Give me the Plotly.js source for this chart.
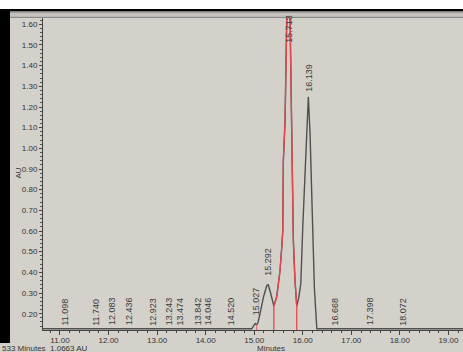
<!DOCTYPE html>
<html>
<head>
<meta charset="utf-8">
<script src="https://cdn.plot.ly/plotly-3.0.1.min.js"></script>
<style>
  html, body { margin: 0; padding: 0; background: #ffffff; overflow: hidden; }
  #chart { width: 463px; height: 352px; }
</style>
</head>
<body>
<div id="chart"></div>
<script>
// ---- data ----
const timeMin = [10.65, 14.95, 14.99, 15.02, 15.05, 15.08, 15.12, 15.19, 15.26, 15.29, 15.33, 15.39, 15.405,
                 15.464, 15.532, 15.567, 15.588, 15.60, 15.635, 15.67, 15.70, 15.738, 15.773, 15.79, 15.806, 15.84, 15.876,
                 15.92, 15.96, 16.00, 16.05, 16.08, 16.115, 16.15, 16.175, 16.20, 16.24, 16.29, 19.30];
const absAU   = [0.127, 0.127, 0.142, 0.152, 0.145, 0.16, 0.20, 0.28, 0.336, 0.340, 0.306, 0.25, 0.237,
                 0.282, 0.41, 0.52, 0.60, 0.94, 1.13, 1.63, 1.70, 1.63, 1.13, 0.94, 0.554, 0.36, 0.237,
                 0.28, 0.347, 0.62, 0.89, 1.09, 1.25, 1.07, 0.86, 0.57, 0.32, 0.127, 0.127];
const redTime = [15.405, 15.405, 15.464, 15.532, 15.567, 15.588, 15.60, 15.635, 15.67, 15.70, 15.738, 15.773, 15.79, 15.806, 15.84, 15.876, 15.876];
const redAU   = [0.121, 0.237, 0.282, 0.41, 0.52, 0.60, 0.94, 1.13, 1.63, 1.70, 1.63, 1.13, 0.94, 0.554, 0.36, 0.237, 0.121];
const smallRedTime = [15.05, 15.05];
const smallRedAU   = [0.121, 0.147];
const peakTimes   = [11.098, 11.740, 12.083, 12.436, 12.923, 13.243, 13.474, 13.842, 14.046, 14.520,
                     15.027, 15.292, 15.713, 16.139, 16.668, 17.398, 18.072];
const peakLabelAU = [0.134, 0.134, 0.134, 0.134, 0.134, 0.134, 0.134, 0.134, 0.134, 0.134,
                     0.180, 0.376, 1.50, 1.262, 0.134, 0.134, 0.134];
const yTicks = [0.2, 0.3, 0.4, 0.5, 0.6, 0.7, 0.8, 0.9, 1.0, 1.1, 1.2, 1.3, 1.4, 1.5, 1.6];
const xTicks = [11, 12, 13, 14, 15, 16, 17, 18, 19];

// ---- layout helpers (pixel -> paper) ----
const L = 43, R = 0, T = 18, B = 22, W = 463, H = 352;
const pw = W - L - R, ph = H - T - B;
const px = v => (v - L) / pw;
const py = v => ((H - B) - v) / ph;
const font = 'Liberation Sans, Arial, sans-serif';
const bg = '#d4d1cb';

function rect(x0, x1, y0, y1, color) {
  return {type: 'rect', xref: 'paper', yref: 'paper', x0: px(x0), x1: px(x1), y0: py(y1), y1: py(y0),
          fillcolor: color, line: {width: 0}, layer: 'above'};
}

const shapes = [
  rect(-5, 470, -5, 9, '#ffffff'),
  rect(0, 470, 9, 11.3, '#000000'),
  rect(10, 470, 11.3, 12.7, '#7a7a7a'),
  rect(10, 470, 12.7, 16.7, '#c6c3be'),
  rect(10, 470, 16.7, 18, '#8a8a8a'),
  rect(0, 10, 11, 343, '#000000')
];

const annotations = peakTimes.map((t, i) => ({
  x: t, y: peakLabelAU[i], xref: 'x', yref: 'y',
  text: t.toFixed(3), showarrow: false, textangle: -90,
  xanchor: 'center', yanchor: 'bottom',
  font: {family: font, size: 9, color: '#3a3a3a'}
}));
annotations.push({
  xref: 'paper', yref: 'paper', x: px(271), y: py(348.5), text: 'Minutes', showarrow: false,
  xanchor: 'center', yanchor: 'middle', font: {family: font, size: 8, color: '#333333'}
});
annotations.push({
  xref: 'paper', yref: 'paper', x: px(17.5), y: py(173), text: 'AU', showarrow: false, textangle: -90,
  xanchor: 'center', yanchor: 'middle', font: {family: font, size: 8, color: '#333333'}
});
annotations.push({
  xref: 'paper', yref: 'paper', x: px(0), y: py(348.5), text: '533 Minutes  1.0663 AU', showarrow: false,
  xanchor: 'left', yanchor: 'middle', font: {family: font, size: 8, color: '#333333'}
});

const traces = [
  {x: timeMin, y: absAU, type: 'scatter', mode: 'lines', line: {color: '#505050', width: 1.4}, hoverinfo: 'skip'},
  {x: redTime, y: redAU, type: 'scatter', mode: 'lines', line: {color: '#e4484a', width: 1.3}, hoverinfo: 'skip'},
  {x: smallRedTime, y: smallRedAU, type: 'scatter', mode: 'lines', line: {color: '#e4707a', width: 1.2}, hoverinfo: 'skip'}
];

const layout = {
  width: W, height: H,
  margin: {l: L, r: R, t: T, b: B, pad: 0},
  paper_bgcolor: bg, plot_bgcolor: bg,
  showlegend: false,
  xaxis: {
    range: [10.65, 19.30], showgrid: false, zeroline: false,
    showline: true, linecolor: '#444444', linewidth: 1,
    ticks: 'outside', ticklen: 4, tickcolor: '#444444',
    tickvals: xTicks, ticktext: xTicks.map(v => v.toFixed(2)),
    ticklabelstandoff: -2,
    tickfont: {family: font, size: 8, color: '#333333'},
    minor: {dtick: 0.2, tick0: 11, ticks: 'outside', ticklen: 2, tickcolor: '#444444', showgrid: false}
  },
  yaxis: {
    range: [0.1211, 1.6306], showgrid: false, zeroline: false,
    showline: true, linecolor: '#444444', linewidth: 1,
    ticks: 'outside', ticklen: 3, tickcolor: '#444444',
    tickvals: yTicks, ticktext: yTicks.map(v => v.toFixed(2)),
    tickfont: {family: font, size: 8, color: '#333333'},
    minor: {dtick: 0.02, tick0: 0.2, ticks: 'outside', ticklen: 2, tickcolor: '#555555', showgrid: false}
  },
  shapes: shapes,
  annotations: annotations
};

Plotly.newPlot('chart', traces, layout, {staticPlot: true, displayModeBar: false});
</script>
</body>
</html>
